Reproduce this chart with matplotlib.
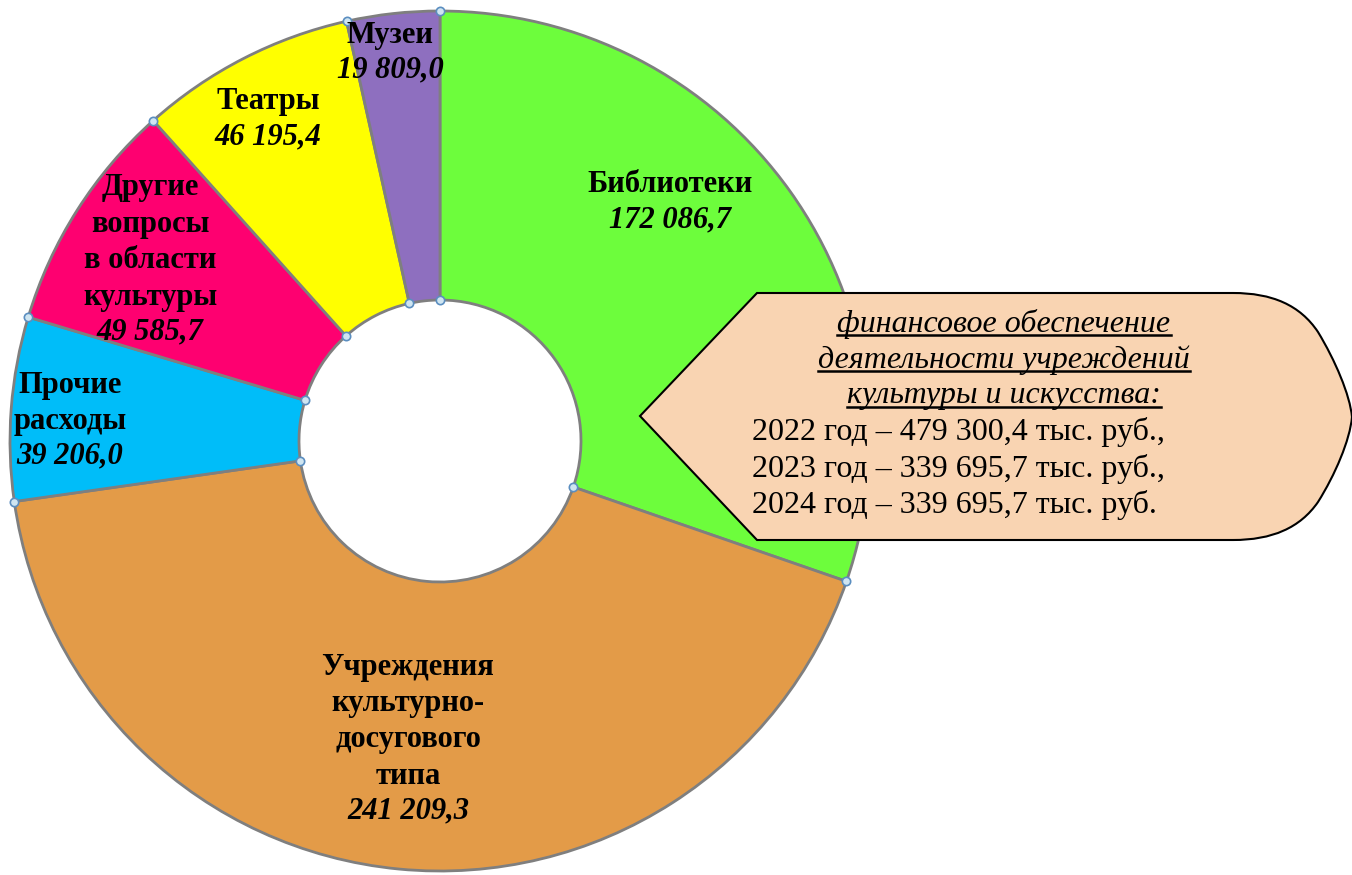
import matplotlib
matplotlib.use("Agg")
import matplotlib.pyplot as plt
import numpy as np
from matplotlib.path import Path
from matplotlib.patches import PathPatch
from matplotlib.lines import Line2D

# ---- data ----
categories = ["Библиотеки", "Учреждения\nкультурно-\nдосугового\nтипа", "Прочие\nрасходы",
              "Другие\nвопросы\nв области\nкультуры", "Театры", "Музеи"]
values = [172086.7, 241209.3, 39206.0, 49585.7, 46195.4, 19809.0]
value_labels = ["172 086,7", "241 209,3", "39 206,0", "49 585,7", "46 195,4", "19 809,0"]
colors = ["#6DFD3C", "#E39B48", "#00BDF9", "#FE0070", "#FFFF00", "#8E6FBF"]

callout_title = ["финансовое обеспечение", "деятельности учреждений", "культуры и искусства:"]
callout_lines = ["2022 год – 479 300,4 тыс. руб.,",
                 "2023 год – 339 695,7 тыс. руб.,",
                 "2024 год – 339 695,7 тыс. руб."]

W, H = 1352, 875
fig = plt.figure(figsize=(W / 100, H / 100), dpi=100)
ax = fig.add_axes([0, 0, 1, 1])

def Y(y):
    return H - y

cx, cy = 440, Y(441)
R_out, R_in = 430, 141

ax.pie(values, colors=colors, startangle=90, counterclock=False,
       radius=R_out, center=(cx, cy),
       wedgeprops=dict(width=R_out - R_in, edgecolor="#7f7f7f", linewidth=2))

# vertex handles
total = sum(values)
cum = np.concatenate([[0], np.cumsum(values)[:-1]])
theta = np.deg2rad(90 - 360 * cum / total)
px = np.concatenate([cx + R_out * np.cos(theta), cx + R_in * np.cos(theta)])
py = np.concatenate([cy + R_out * np.sin(theta), cy + R_in * np.sin(theta)])
ax.scatter(px, py, s=36, facecolor="#cfe5f1", edgecolor="#5b8ec0", linewidth=1.2, zorder=10)

# labels
serif = ["Liberation Serif", "DejaVu Serif"]
fs = 22
label_pos = [(670, 185), (408, 667), (70, 385), (150, 188), (268, 102), (390, 35)]
step = 36.5
for cat, val, (lx, ly) in zip(categories, value_labels, label_pos):
    lines = cat.split("\n")
    for i, ln in enumerate(lines):
        ax.text(lx, Y(ly + i * step), ln, ha="center", va="center", fontsize=fs,
                fontweight="bold", family=serif, zorder=12)
    ax.text(lx, Y(ly + len(lines) * step - 2), val, ha="center", va="center", fontsize=fs,
            fontweight="bold", fontstyle="italic", family=serif, zorder=12)

# callout shape
verts = [(640, Y(416)), (757, Y(293)), (1233, Y(293)),
         (1272, Y(293)), (1300, Y(305)), (1318, Y(332)),
         (1335, Y(360)), (1350, Y(395)), (1352, Y(417)),
         (1350, Y(440)), (1335, Y(475)), (1318, Y(502)),
         (1300, Y(528)), (1272, Y(540)), (1233, Y(540)),
         (757, Y(540)), (640, Y(416))]
codes = [Path.MOVETO, Path.LINETO, Path.LINETO,
         Path.CURVE4, Path.CURVE4, Path.CURVE4,
         Path.CURVE4, Path.CURVE4, Path.CURVE4,
         Path.CURVE4, Path.CURVE4, Path.CURVE4,
         Path.CURVE4, Path.CURVE4, Path.CURVE4,
         Path.LINETO, Path.CLOSEPOLY]
ax.add_patch(PathPatch(Path(verts, codes), facecolor="#F9D4B2", edgecolor="black",
                       linewidth=1.5, zorder=15, clip_on=False))

fs2 = 23
title_texts = []
for i, t in enumerate(callout_title):
    tt = ax.text(1004, Y(324 + i * 36), t, ha="center", va="center", fontsize=fs2,
                 fontstyle="italic", family=serif, zorder=16)
    title_texts.append(tt)
for i, t in enumerate(callout_lines):
    ax.text(752, Y(432 + i * 36.5), t, ha="left", va="center", fontsize=fs2,
            family=serif, zorder=16)

ax.set_xlim(0, W)
ax.set_ylim(0, H)
ax.set_aspect("equal")
ax.axis("off")

# underline callout title
fig.canvas.draw()
renderer = fig.canvas.get_renderer()
inv = ax.transData.inverted()
for tt in title_texts:
    bb = tt.get_window_extent(renderer)
    (x0, y0), (x1, y1) = inv.transform([(bb.x0, bb.y0), (bb.x1, bb.y1)])
    ax.add_line(Line2D([x0, x1], [y0 + 4, y0 + 4], color="black", linewidth=1.8, zorder=17))

fig.savefig("out.png", dpi=100)
